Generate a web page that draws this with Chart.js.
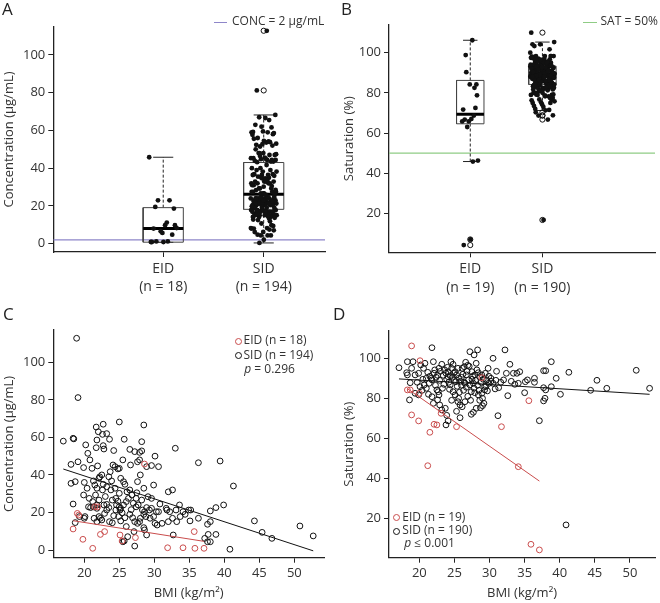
<!DOCTYPE html>
<html>
<head>
<meta charset="utf-8">
<script src="https://cdn.jsdelivr.net/npm/chart.js@4.4.1/dist/chart.umd.min.js"></script>
<style>
  body { margin: 0; background: #fff; width: 660px; height: 603px; position: relative; overflow: hidden;
         font-family: 'Open Sans', sans-serif; color: #222; }
  canvas { position: absolute; }
  .t { position: absolute; line-height: 1; white-space: nowrap; }
  .lg { font-size: 12px; color: #333; }
  .pl { font-size: 17px; color: #222; }
  .dot { position: absolute; width: 5px; height: 5px; border: 1px solid #111; border-radius: 50%; }
  .seg { position: absolute; height: 0; border-top: 1.3px solid; }
</style>
</head>
<body>
<canvas id="ca" width="330" height="300" style="left:0;top:0"></canvas>
<canvas id="cb" width="330" height="300" style="left:330px;top:0"></canvas>
<canvas id="cc" width="330" height="303" style="left:0;top:300px"></canvas>
<canvas id="cd" width="330" height="303" style="left:330px;top:300px"></canvas>

<div class="t pl" style="left:2px;top:0px">A</div>
<div class="t pl" style="left:341px;top:0px">B</div>
<div class="t pl" style="left:3px;top:305px">C</div>
<div class="t pl" style="left:333px;top:305px">D</div>

<div class="seg" style="left:214px;top:21.5px;width:13px;border-color:#8e86c9"></div>
<div class="t lg" style="left:232px;top:15px">CONC = 2 µg/mL</div>
<div class="seg" style="left:583px;top:21.5px;width:14px;border-color:#8fcc85"></div>
<div class="t lg" style="left:600.5px;top:15px">SAT = 50%</div>

<span class="dot" style="left:234.5px;top:337.5px;border-color:#c94c4c"></span>
<div class="t lg" style="left:243.5px;top:334.3px">EID (n = 18)</div>
<span class="dot" style="left:234.5px;top:352px"></span>
<div class="t lg" style="left:243.5px;top:348.8px">SID (n = 194)</div>
<div class="t lg" style="left:244.3px;top:362.8px"><i>p</i> = 0.296</div>

<span class="dot" style="left:393.2px;top:514px;border-color:#c94c4c"></span>
<div class="t lg" style="left:402.3px;top:510.8px">EID (n = 19)</div>
<span class="dot" style="left:393.2px;top:527.5px"></span>
<div class="t lg" style="left:402.3px;top:524.3px">SID (n = 190)</div>
<div class="t lg" style="left:404.3px;top:537.3px"><i>p</i> ≤ 0.001</div>

<script>
// categories for the box plots
var concCats = [["EID", "(n = 18)"], ["SID", "(n = 194)"]];
var satCats = [["EID", "(n = 19)"], ["SID", "(n = 190)"]];

// C: EID patients [BMI, concentration]
var eidConc = [
  [18.4, 11.2], [19.0, 19.5], [19.2, 18.6], [19.8, 5.7], [21.2, 0.9], [21.5, 23], [21.9, 23], [22.3, 8.3], [22.9, 9.8],
  [25.1, 8], [25.4, 4.8], [27.3, 6.6], [28.6, 45.8], [31.9, 1.2], [34.1, 1.2], [35.7, 9.8], [35.8, 0.9], [37.1, 0.9]
];

// C: SID patients [BMI, concentration]
var sidConc = [
  [18.9, 112.8], [19.1, 81.2], [17.0, 58], [18.4, 59.5], [18.5, 59.2], [21.7, 65.5], [22.7, 67], [25.0, 68.2], [28.5, 66.6], [22.0, 63],
  [22.6, 61.6], [23.2, 62], [23.6, 59], [25.7, 59], [20.2, 56], [21.8, 58.6], [21.7, 54.5], [22.7, 55.6], [22.8, 53.8], [20.5, 51.5],
  [24.2, 53], [26.5, 53.6], [27.2, 52.4], [27.9, 52], [28.2, 52.8], [28.2, 57.7], [33.0, 54.2], [20.8, 48], [19.1, 47], [18.1, 45.6],
  [19.9, 43.9], [21.1, 43.5], [21.9, 44.8], [24.1, 45.3], [24.4, 44.4], [24.8, 43.2], [25.0, 43.5], [25.5, 48], [26.6, 45.3], [27.6, 47],
  [27.9, 48], [28.9, 44.4], [29.6, 45], [30.1, 50], [30.6, 44.4], [27.6, 36.4], [28.0, 40], [18.7, 36.4], [18.1, 35.5], [20.0, 36],
  [20.4, 32.9], [21.3, 36.8], [22.2, 39], [22.5, 40], [22.1, 38.2], [23.7, 41.7], [23.5, 39], [23.9, 36.8], [25.2, 38.2], [25.6, 36.4],
  [25.8, 35], [19.9, 29.3], [20.7, 27.5], [21.5, 34.6], [21.8, 32.9], [21.6, 29.3], [22.7, 35], [22.6, 32], [23.2, 33.7], [23.8, 32],
  [24.4, 32.9], [25.0, 30.2], [26.1, 31], [26.5, 32], [26.8, 29.3], [27.4, 27.5], [28.5, 32.9], [29.1, 28.4], [29.6, 27.5], [29.9, 34.6],
  [32.0, 31], [32.6, 32], [33.6, 24], [21.2, 25.8], [21.8, 24], [21.8, 22.2], [21.3, 23], [22.1, 26.6], [22.8, 24], [23.2, 24.3],
  [23.5, 22.6], [23.2, 21.3], [24.0, 26.6], [24.5, 27.5], [24.6, 24], [24.5, 21.3], [25.0, 23], [25.2, 22.2], [25.6, 24], [25.1, 21.3],
  [26.0, 25.8], [26.3, 27.5], [27.0, 24.9], [27.4, 23], [27.7, 24], [28.2, 26.6], [28.3, 21.3], [28.6, 20.4], [28.9, 22.6], [29.3, 21.3],
  [29.6, 22.2], [30.3, 20.4], [30.6, 20.4], [31.7, 22.2], [32.2, 20.4], [31.8, 21.3], [33.1, 21.3], [33.7, 17.8], [34.1, 20.4], [34.4, 19],
  [34.9, 21.3], [18.4, 24.5], [19.3, 17.8], [20.0, 16.9], [20.1, 17.8], [18.7, 14.6], [20.6, 23], [20.9, 22.6], [21.4, 16.9], [21.8, 15.1],
  [22.1, 17.8], [22.3, 16.9], [22.5, 16], [23.6, 15.1], [24.2, 18.3], [24.9, 17.8], [25.2, 15.5], [25.8, 17.2], [26.5, 19], [26.9, 17.2],
  [27.2, 15.1], [27.6, 14.2], [28.0, 16.9], [27.9, 15.1], [28.5, 19], [28.8, 17.8], [29.4, 16.9], [29.9, 17.8], [30.1, 14.2], [30.4, 13.3],
  [31.1, 14.2], [32.0, 15.1], [32.6, 16.9], [33.2, 15.1], [27.1, 9.8], [28.6, 10.7], [28.9, 8], [25.5, 4.4], [25.7, 4.8], [26.2, 7.1],
  [27.2, 2.1], [32.7, 8], [28.5, 11.9], [36.3, 46.5], [39.4, 47.4], [41.3, 34.1], [39.9, 24], [38.8, 22.6], [38.0, 20.8], [36.3, 16.9],
  [35.2, 21.3], [35.1, 15.5], [37.6, 13.7], [38.0, 15.1], [37.2, 6.2], [37.6, 4.4], [38.0, 4.4], [37.7, 8.3], [38.8, 8.3], [44.3, 15.5],
  [45.4, 9.4], [46.8, 6.2], [50.8, 12.8], [52.7, 7.5], [40.8, 0.4], [23.0, 28.5], [24.8, 26], [26.7, 21.5], [27.5, 30.5], [22.9, 19.5],
  [25.4, 19.8], [24.0, 14.5], [26.0, 12.5], [30.8, 24.5]
];

// D: EID patients [BMI, saturation]
var eidSat = [
  [18.9, 106.2], [20.1, 98.8], [18.3, 84.2], [18.7, 84.2], [18.9, 71.7], [19.9, 68.7], [21.5, 63], [21.2, 46.3], [22.1, 67], [22.5, 66.7],
  [23.1, 72.5], [25.3, 65.8], [31.7, 65.8], [34.1, 45.8], [28.9, 90.3], [35.6, 78.8], [35.9, 7], [37.1, 4.2], [20.0, 82.5]
];

// D: SID patients [BMI, saturation]
var sidSat = [
  [17.1, 95.3], [18.3, 98.3], [19.1, 98.3], [18.2, 92.8], [18.3, 91.7], [18.9, 95], [18.7, 87.8], [18.6, 79.2], [19.4, 91.7], [19.9, 92.5],
  [20.2, 96.7], [20.6, 95], [20.8, 97.5], [20.1, 85.8], [20.7, 86.7], [21.0, 85], [19.4, 82.5], [19.9, 81.7], [21.3, 82], [21.8, 80.8],
  [21.8, 105.3], [22.0, 98.3], [22.1, 92.5], [22.2, 94.2], [21.7, 90], [21.8, 89.2], [22.5, 84.2], [22.7, 83.3], [22.8, 81.7], [22.8, 95],
  [23.2, 97], [23.6, 94.2], [23.8, 92.5], [24.1, 93.3], [24.4, 91.3], [22.6, 79.2], [22.9, 76.7], [23.2, 74.2], [23.7, 75], [23.8, 66.7],
  [24.1, 68.7], [24.5, 98.3], [24.8, 97], [24.6, 95], [25.1, 93.3], [25.3, 91.7], [25.6, 90], [25.2, 88.3], [24.4, 86.7], [24.8, 83.3],
  [25.1, 81.7], [25.6, 80], [25.5, 78.3], [25.8, 76.7], [26.1, 75.8], [26.5, 78.3], [25.8, 70.3], [26.1, 95], [26.4, 95.8], [26.6, 98],
  [26.7, 91.7], [27.0, 89.2], [26.5, 87.5], [27.2, 86.7], [27.2, 103.3], [27.8, 101.7], [28.3, 104.2], [27.5, 93.3], [27.9, 91.7], [28.2, 94.2],
  [28.6, 90.8], [28.9, 91.7], [27.4, 83.3], [27.8, 85], [28.4, 81.7], [28.9, 82.5], [29.3, 85.8], [27.4, 72], [28.1, 75], [28.7, 75.3],
  [29.0, 76.3], [29.4, 92.5], [29.6, 89.2], [29.9, 87.5], [30.2, 90], [30.5, 87.5], [29.3, 84.2], [29.7, 83.7], [30.5, 100], [31.2, 71.3],
  [30.8, 84.7], [31.3, 85.3], [32.0, 89.2], [32.2, 104.2], [32.6, 81.3], [32.9, 97], [33.4, 92.5], [33.9, 92.5], [33.6, 87], [34.1, 87.5],
  [34.3, 93.3], [35.1, 88.3], [35.4, 89.2], [35.0, 82.8], [36.4, 90], [36.4, 88], [37.7, 93.8], [38.0, 93.8], [37.7, 85.3], [38.0, 84.2],
  [37.7, 78.7], [37.9, 80], [38.8, 98.3], [38.8, 85.8], [39.5, 90], [40.1, 82], [41.3, 93], [37.1, 68.8], [40.9, 16.7], [44.4, 84],
  [45.3, 89], [46.7, 85], [50.9, 94], [52.8, 85], [21.2, 93], [21.5, 91], [22.4, 90.5], [22.9, 89], [23.4, 91.5], [23.9, 89.5],
  [24.2, 88], [24.7, 90.5], [25.0, 89], [25.4, 86], [25.9, 88.5], [26.2, 92], [26.8, 93.5], [27.1, 96], [27.5, 89.5], [27.7, 87.5],
  [28.0, 89], [28.3, 86.5], [28.8, 88], [29.1, 89.5], [29.5, 86], [29.9, 91], [30.2, 88.5], [23.0, 93.5], [23.5, 87], [24.0, 95.5],
  [24.3, 84.5], [24.9, 92.5], [25.5, 95], [26.0, 86.5], [26.3, 84], [26.9, 81], [27.3, 79], [27.9, 82.8], [28.5, 84], [28.6, 79],
  [29.0, 80], [26.0, 90.5], [27.6, 91], [22.3, 86.5], [21.4, 87.5], [20.5, 89.5], [23.3, 85], [25.7, 83], [26.7, 85.5], [28.1, 97.5],
  [29.8, 95], [24.6, 79], [22.0, 77.5], [27.7, 73], [25.3, 73.5], [23.9, 71.5], [30.9, 89], [31.6, 88], [32.4, 92.5], [33.1, 88.5],
  [31.0, 93.5], [28.4, 92.8], [26.4, 88], [24.1, 90.8], [22.6, 91.5], [21.0, 90], [19.7, 88], [20.4, 84], [29.2, 77.5], [26.9, 96.5]
];
// SID saturation values with no BMI recorded (shown in B only)
var sidSatNoBmi = [110];

// box plot stats: [lower whisker, Q1, median, Q3, upper whisker]
var eidConcBox = [0.7, 0.8, 8.0, 19.1, 45.8];
var sidConcBox = [0.4, 18.2, 26.2, 43.0, 68.2];
var eidSatBox = [45.8, 64.6, 69.3, 86.2, 106.2];
var sidSatBox = [71.2, 84.2, 88.5, 93.3, 105.3];
var eidConcOut = [];
var sidConcOut = [81.2, 112.8];
var eidSatOut = [7, 4.2];
var sidSatOut = [110, 70.3, 68.8, 68.7, 66.7, 16.7];

var concCutoff = 2;
var satCutoff = 50;

// regression lines [intercept, slope]
var fitConcSid = [63.9, -1.221];
var fitConcEid = [26.42, -0.588];
var fitSatSid = [93.39, -0.2157];
var fitSatEid = [129.77, -2.457];

var RED = "#c94c4c";
var INK = "#111";

Chart.defaults.font.family = "'Open Sans', sans-serif";
Chart.defaults.color = "#333";

function jitter(i, amt) {
    return (((i + 1) * 0.6180339887) % 1 - 0.5) * 2 * amt;
}

function line(pts, color, width, dash, order) {
    return {
        data: pts, showLine: true, borderColor: color, borderWidth: width,
        borderDash: dash || [], pointRadius: 0, fill: false, order: order,
        borderJoinStyle: "miter"
    };
}

function boxSets(pos, st, half, cap) {
    var lo = st[0], q1 = st[1], med = st[2], q3 = st[3], hi = st[4];
    return [
        line([{x: pos - half, y: q1}, {x: pos + half, y: q1}, {x: pos + half, y: q3}, {x: pos - half, y: q3}, {x: pos - half, y: q1}], "#444", 1, null, 5),
        line([{x: pos - half, y: med}, {x: pos + half, y: med}], "#000", 3, null, 4),
        line([{x: pos, y: q3}, {x: pos, y: hi}], "#222", 1, [3, 2], 5),
        line([{x: pos, y: lo}, {x: pos, y: q1}], "#222", 1, [3, 2], 5),
        line([{x: pos - cap, y: hi}, {x: pos + cap, y: hi}], "#222", 1, null, 5),
        line([{x: pos - cap, y: lo}, {x: pos + cap, y: lo}], "#222", 1, null, 5)
    ];
}

function strip(values, pos, amt) {
    return {
        data: values.map(function (v, i) { return {x: pos + jitter(i, amt), y: v}; }),
        pointRadius: 2.4, pointBackgroundColor: INK, pointBorderWidth: 0, showLine: false, order: 0
    };
}

function outliers(values, pos) {
    return {
        data: values.map(function (v) { return {x: pos, y: v}; }),
        pointRadius: 2.6, pointBackgroundColor: "rgba(0,0,0,0)", pointBorderColor: INK, pointBorderWidth: 1,
        showLine: false, order: 1
    };
}

function circles(pairs, color, order) {
    return {
        data: pairs.map(function (p) { return {x: p[0], y: p[1]}; }),
        pointRadius: 2.9, pointBackgroundColor: "rgba(0,0,0,0)", pointBorderColor: color, pointBorderWidth: 1,
        showLine: false, order: order
    };
}

function fitLine(fit, pairs, color) {
    var xs = pairs.map(function (p) { return p[0]; });
    var a = Math.min.apply(null, xs), b = Math.max.apply(null, xs);
    return line([{x: a, y: fit[0] + fit[1] * a}, {x: b, y: fit[0] + fit[1] * b}], color, 1, null, 0);
}

function scale(axis, min, max, ticks, size, extra) {
    var s = {
        type: "linear", min: min, max: max,
        afterFit: function (sc) { if (axis === "x") sc.height = size; else sc.width = size; },
        afterBuildTicks: function (sc) { sc.ticks = ticks.map(function (v) { return {value: v}; }); },
        grid: {display: true, drawOnChartArea: false, drawTicks: true, tickLength: 5, color: "#222", lineWidth: 1},
        border: {display: true, color: "#222", width: 1.3},
        ticks: {autoSkip: false, maxRotation: 0, padding: 3, color: "#333", font: {size: 13}}
    };
    if (extra.ticks) Object.assign(s.ticks, extra.ticks);
    if (extra.title) s.title = extra.title;
    return s;
}

function makeChart(id, pad, xs, ys, datasets) {
    return new Chart(document.getElementById(id), {
        type: "scatter",
        data: {datasets: datasets},
        options: {
            responsive: false, animation: false, devicePixelRatio: 1,
            layout: {padding: {left: 0, top: pad[0], right: pad[1], bottom: 0}},
            plugins: {legend: {display: false}, tooltip: {enabled: false}},
            scales: {x: xs, y: ys}
        }
    });
}

function yTitle(text, padTop) {
    return {display: true, text: text, color: "#333", font: {size: 13}, padding: {top: padTop, bottom: 0}};
}

var secondVals = function (arr) { return arr.map(function (p) { return p[1]; }); };

// A: concentration box plots
var aXMin = -0.094, aXMax = 2.61;
makeChart("ca", [27, 5],
    scale("x", aXMin, aXMax, [1, 2], 48, {ticks: {font: {size: 14, lineHeight: 1.3}, callback: function (v) { return concCats[Math.round(v) - 1]; }}}),
    scale("y", -4.4, 114.8, [0, 20, 40, 60, 80, 100], 53.3, {title: yTitle("Concentration (µg/mL)", 1.4)}),
    [strip(secondVals(eidConc), 1, 0.15), strip(secondVals(sidConc), 2, 0.13),
     outliers(eidConcOut, 1), outliers(sidConcOut, 2)]
        .concat(boxSets(1, eidConcBox, 0.2, 0.1), boxSets(2, sidConcBox, 0.2, 0.1))
        .concat([line([{x: aXMin, y: concCutoff}, {x: aXMax, y: concCutoff}], "#8e86c9", 1.2, null, 6)])
);

// B: saturation box plots
var bXMin = -0.126, bXMax = 3.56;
makeChart("cb", [25, 5],
    scale("x", bXMin, bXMax, [1, 2], 47.7, {ticks: {font: {size: 14, lineHeight: 1.3}, callback: function (v) { return satCats[Math.round(v) - 1]; }}}),
    scale("y", 0.6, 113.8, [20, 40, 60, 80, 100], 59, {title: yTitle("Saturation (%)", 11.4)}),
    [strip(secondVals(eidSat), 1, 0.12), strip(secondVals(sidSat).concat(sidSatNoBmi), 2, 0.17),
     outliers(eidSatOut, 1), outliers(sidSatOut, 2)]
        .concat(boxSets(1, eidSatBox, 0.19, 0.1), boxSets(2, sidSatBox, 0.19, 0.1))
        .concat([line([{x: bXMin, y: satCutoff}, {x: bXMax, y: satCutoff}], "#8fcc85", 1.2, null, 6)])
);

var bmiTicks = [20, 25, 30, 35, 40, 45, 50];
var bmiTitle = {display: true, text: "BMI (kg/m²)", color: "#333", font: {size: 13}, padding: {top: 0, bottom: 1.9}};

// C: concentration vs BMI
makeChart("cc", [30, 6],
    scale("x", 15.57, 54.24, bmiTicks, 45.3, {title: bmiTitle}),
    scale("y", -4.1, 117.2, [0, 20, 40, 60, 80, 100], 53.3, {title: yTitle("Concentration (µg/mL)", 1.4)}),
    [circles(sidConc, INK, 3), circles(eidConc, RED, 2),
     fitLine(fitConcSid, sidConc, "#111"), fitLine(fitConcEid, eidConc, RED)]
);

// D: saturation vs BMI
makeChart("cd", [30.7, 5],
    scale("x", 15.68, 53.57, bmiTicks, 45.3, {title: bmiTitle}),
    scale("y", 0.3, 113.8, [20, 40, 60, 80, 100], 59, {title: yTitle("Saturation (%)", 11.4)}),
    [circles(sidSat, INK, 3), circles(eidSat, RED, 2),
     fitLine(fitSatSid, sidSat, "#111"), fitLine(fitSatEid, eidSat, RED)]
);
</script>
</body>
</html>
